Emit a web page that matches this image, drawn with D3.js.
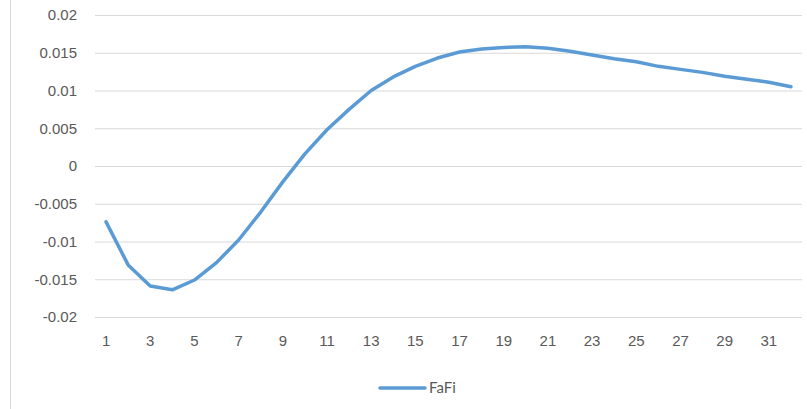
<!DOCTYPE html>
<html>
<head>
<meta charset="utf-8">
<script src="https://cdn.jsdelivr.net/npm/d3@7"></script>
<style>
  html, body { margin: 0; padding: 0; background: #fff; }
  svg { display: block; font-family: Lato, "Open Sans", sans-serif; }
</style>
</head>
<body>
<svg id="chart" width="807" height="409"></svg>
<script>
// Periods 1..32
const categories = d3.range(1, 33);
// FaFi series values per period
const fafi = [
  -0.0074, -0.0131, -0.0159, -0.0164, -0.0151, -0.0128, -0.0098, -0.0061,
  -0.0021, 0.0016, 0.0048, 0.0075, 0.0100, 0.0118, 0.0132, 0.0143,
  0.0151, 0.0155, 0.0157, 0.0158, 0.0156, 0.0152, 0.0147, 0.0142,
  0.0138, 0.0132, 0.0128, 0.0124, 0.0119, 0.0115, 0.0111, 0.0105
];
const yTicks = [-0.02, -0.015, -0.01, -0.005, 0, 0.005, 0.01, 0.015, 0.02];
const xTickLabels = categories.filter(d => d % 2 === 1);
const seriesName = "FaFi";

const svg = d3.select("#chart");
const plot = { left: 95, right: 802, top: 15, bottom: 317 };

const x = d3.scaleBand().domain(categories).range([plot.left, plot.right]);
const y = d3.scaleLinear().domain([-0.02, 0.02]).range([plot.bottom, plot.top]);

// chart frame edge on the left
svg.append("line")
  .attr("x1", 10.5).attr("x2", 10.5).attr("y1", 0).attr("y2", 409)
  .attr("stroke", "#d9d9d9").attr("stroke-width", 1);

// horizontal gridlines + y labels
const yAxis = d3.axisLeft(y).tickValues(yTicks)
  .tickSize(-(plot.right - plot.left)).tickPadding(18)
  .tickFormat(d => d === 0 ? "0" : String(+d.toFixed(3)));
const gy = svg.append("g").attr("transform", `translate(${plot.left},0)`).call(yAxis);
gy.select(".domain").remove();
gy.selectAll(".tick line").attr("stroke", "#d9d9d9").attr("stroke-width", 1);
gy.selectAll(".tick text").attr("fill", "#595959").style("font-size", "15px");

// x labels
const xAxis = d3.axisBottom(x).tickValues(xTickLabels).tickSize(0).tickPadding(18);
const gx = svg.append("g").attr("transform", `translate(0,${plot.bottom})`).call(xAxis);
gx.select(".domain").remove();
gx.selectAll(".tick text").attr("fill", "#595959").style("font-size", "15px");

// series line
const line = d3.line()
  .x((d, i) => x(categories[i]) + x.bandwidth() / 2)
  .y(d => y(d));
svg.append("path")
  .datum(fafi)
  .attr("d", line)
  .attr("fill", "none")
  .attr("stroke", "#5b9bd5")
  .attr("stroke-width", 3.5)
  .attr("stroke-linejoin", "round")
  .attr("stroke-linecap", "round");

// legend
const lg = svg.append("g").attr("transform", "translate(380,388)");
lg.append("line").attr("x1", 0).attr("x2", 45).attr("y1", 0).attr("y2", 0)
  .attr("stroke", "#5b9bd5").attr("stroke-width", 3.5).attr("stroke-linecap", "round");
lg.append("text").attr("x", 49).attr("y", 0).attr("dy", "0.35em")
  .attr("fill", "#595959").style("font-size", "15px").text(seriesName);
</script>
</body>
</html>
